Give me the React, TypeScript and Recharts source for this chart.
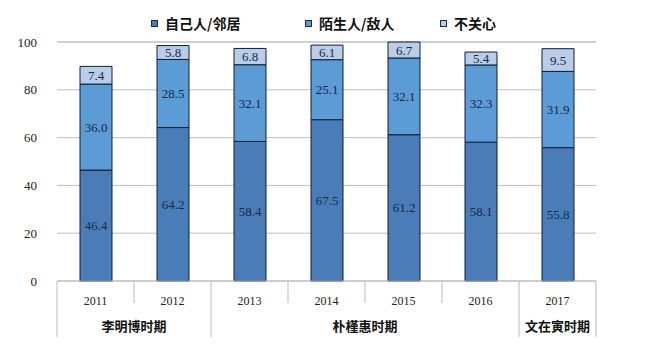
import { BarChart, Bar, XAxis, YAxis, CartesianGrid, LabelList } from 'recharts';

const years = ['2011', '2012', '2013', '2014', '2015', '2016', '2017'];
const ownSide = [46.4, 64.2, 58.4, 67.5, 61.2, 58.1, 55.8];
const stranger = [36.0, 28.5, 32.1, 25.1, 32.1, 32.3, 31.9];
const indifferent = [7.4, 5.8, 6.8, 6.1, 6.7, 5.4, 9.5];
const yTicks = [0, 20, 40, 60, 80, 100];

const periods = [
  { name: '李明博时期', from: 0, to: 1 },
  { name: '朴槿惠时期', from: 2, to: 5 },
  { name: '文在寅时期', from: 6, to: 6 },
];

const seriesNames = ['自己人/邻居', '陌生人/敌人', '不关心'];
const colors = ['#4a7db8', '#5b9bd6', '#b9cde7'];
const legendX = [151, 305, 440];

const W = 648;
const H = 361;
const M = { top: 42, right: 52, left: 0, bottom: 0 };
const Y_W = 57;
const bandW = (W - M.left - M.right - Y_W) / years.length;
const longAfter = [1, 5, 6];

const data = years.map((y, i) => ({
  year: y,
  own: ownSide[i],
  stranger: stranger[i],
  indifferent: indifferent[i],
}));

const serif = 'Liberation Serif, Times New Roman, serif';
const cjk = 'Noto Sans CJK SC, sans-serif';

function YearTick(props: any) {
  const { x, y, payload, index } = props;
  const right = x + bandW / 2;
  const left = x - bandW / 2;
  const period = periods.find((p) => p.from === index);
  return (
    <g>
      <text x={x} y={y + 16} textAnchor="middle" style={{ fontFamily: serif }} fontSize={12} fill="#222">
        {payload.value}
      </text>
      {index === 0 && <line x1={left} x2={left} y1={y - 8} y2={y + 48} stroke="#bbb" />}
      <line
        x1={right}
        x2={right}
        y1={y - 8}
        y2={longAfter.includes(index) ? y + 48 : y + 14}
        stroke="#bbb"
      />
      {period && (
        <text
          x={x + ((period.to - period.from) * bandW) / 2}
          y={y + 42}
          textAnchor="middle"
          style={{ fontFamily: cjk }}
          fontWeight="bold"
          fontSize={13}
          fill="#111"
        >
          {period.name}
        </text>
      )}
    </g>
  );
}

const fmt = (v: any) => Number(v).toFixed(1);
const labelStyle = { fontFamily: serif };

export default function App() {
  return (
    <div style={{ position: 'absolute', left: 0, top: 0, width: W, height: H, background: '#fff' }}>
      {seriesNames.map((n, i) => (
        <div
          key={n}
          style={{
            position: 'absolute',
            top: 13,
            left: legendX[i],
            display: 'flex',
            alignItems: 'center',
            fontFamily: cjk,
            fontWeight: 'bold',
            fontSize: 14,
            color: '#111',
            whiteSpace: 'nowrap',
          }}
        >
          <span
            style={{
              display: 'inline-block',
              width: 5,
              height: 5,
              background: colors[i],
              border: '1px solid #1b2a44',
              marginRight: 7,
            }}
          />
          {n}
        </div>
      ))}
      <BarChart width={W} height={H} data={data} margin={M} barSize={32}>
        <CartesianGrid vertical={false} stroke="#bfbfbf" />
        <XAxis
          dataKey="year"
          height={80}
          axisLine={{ stroke: '#bbb' }}
          tickLine={false}
          tick={<YearTick />}
          interval={0}
        />
        <YAxis
          width={Y_W}
          domain={[0, 100]}
          ticks={yTicks}
          axisLine={false}
          tickLine={false}
          tick={{ style: { fontFamily: serif }, fontSize: 13, fill: '#222' }}
          tickMargin={14}
        />
        <Bar dataKey="own" stackId="a" fill={colors[0]} stroke="#0f1e38" strokeWidth={1} isAnimationActive={false}>
          <LabelList dataKey="own" position="center" formatter={fmt} fill="#17284a" style={labelStyle} fontSize={13} />
        </Bar>
        <Bar dataKey="stranger" stackId="a" fill={colors[1]} stroke="#0f1e38" strokeWidth={1} isAnimationActive={false}>
          <LabelList dataKey="stranger" position="center" formatter={fmt} fill="#17284a" style={labelStyle} fontSize={13} />
        </Bar>
        <Bar dataKey="indifferent" stackId="a" fill={colors[2]} stroke="#0f1e38" strokeWidth={1} isAnimationActive={false}>
          <LabelList dataKey="indifferent" position="center" formatter={fmt} fill="#17284a" style={labelStyle} fontSize={13} />
        </Bar>
      </BarChart>
    </div>
  );
}
